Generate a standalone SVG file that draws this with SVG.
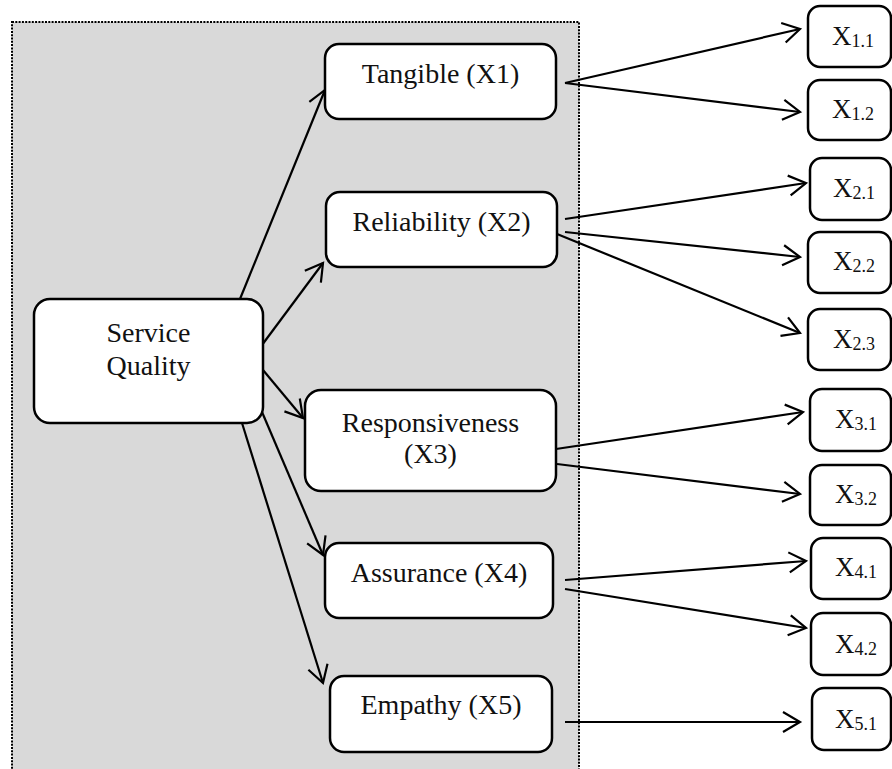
<svg xmlns="http://www.w3.org/2000/svg" width="892" height="769" viewBox="0 0 892 769">
<defs>
<style>
.box{fill:#fff;stroke:#000;stroke-width:2.5}
.lbl{font-family:"Liberation Serif","Times New Roman",serif;font-size:28px;fill:#111;text-anchor:middle}
.xl{font-family:"Liberation Serif","Times New Roman",serif;font-size:27px;fill:#111}
.sub{font-size:18px}
.con{stroke:#000;stroke-width:2.2;fill:none;marker-end:url(#arr)}
</style>
<marker id="arr" viewBox="0 0 24 24" refX="21" refY="12" markerWidth="24" markerHeight="24" markerUnits="userSpaceOnUse" orient="auto">
<path d="M4,2 L21,12 L4,22" fill="none" stroke="#000" stroke-width="2.2"/>
</marker>
</defs>
<rect id="frame" x="12" y="22" width="567" height="770" fill="#d9d9d9" stroke="#000" stroke-width="2" stroke-dasharray="2,1.3"/>

<g id="connectors">
<line class="con" x1="240" y1="299" x2="325" y2="90"/>
<line class="con" x1="262" y1="345" x2="323" y2="263"/>
<line class="con" x1="263" y1="370" x2="303" y2="418"/>
<line class="con" x1="262" y1="412" x2="323" y2="555"/>
<line class="con" x1="242" y1="423" x2="323" y2="683"/>
<line class="con" x1="565" y1="83" x2="800" y2="29"/>
<line class="con" x1="565" y1="83" x2="800" y2="112"/>
<line class="con" x1="565" y1="219" x2="806" y2="183"/>
<line class="con" x1="565" y1="232" x2="800" y2="257"/>
<line class="con" x1="557" y1="234" x2="800" y2="333"/>
<line class="con" x1="556" y1="449" x2="803" y2="412"/>
<line class="con" x1="557" y1="464" x2="800" y2="494"/>
<line class="con" x1="565" y1="580" x2="806" y2="561"/>
<line class="con" x1="565" y1="589" x2="806" y2="628"/>
<line class="con" x1="565" y1="722" x2="800" y2="722"/>
</g>

<g id="service-quality">
<rect class="box" x="34" y="299" width="229" height="124" rx="16"/>
<text class="lbl" x="148.5" y="342">Service</text>
<text class="lbl" x="148.5" y="375">Quality</text>
</g>
<g id="tangible">
<rect class="box" x="325" y="44" width="231" height="75" rx="14"/>
<text class="lbl" x="440.5" y="83">Tangible (X1)</text>
</g>
<g id="reliability">
<rect class="box" x="326" y="192" width="231" height="75" rx="14"/>
<text class="lbl" x="441.5" y="231">Reliability (X2)</text>
</g>
<g id="responsiveness">
<rect class="box" x="305" y="390" width="251" height="101" rx="16"/>
<text class="lbl" x="430.5" y="432">Responsiveness</text>
<text class="lbl" x="430.5" y="463">(X3)</text>
</g>
<g id="assurance">
<rect class="box" x="325" y="543" width="228" height="75" rx="14"/>
<text class="lbl" x="439" y="582">Assurance (X4)</text>
</g>
<g id="empathy">
<rect class="box" x="330" y="676" width="222" height="76" rx="14"/>
<text class="lbl" x="441" y="714">Empathy (X5)</text>
</g>

<g id="x11"><rect class="box" x="808" y="6" width="83" height="61" rx="12"/><text class="xl" x="832" y="45">X<tspan class="sub" dy="2">1.1</tspan></text></g>
<g id="x12"><rect class="box" x="808" y="80" width="83" height="60" rx="12"/><text class="xl" x="832" y="118">X<tspan class="sub" dy="2">1.2</tspan></text></g>
<g id="x21"><rect class="box" x="810" y="158" width="81" height="62" rx="12"/><text class="xl" x="833" y="197">X<tspan class="sub" dy="2">2.1</tspan></text></g>
<g id="x22"><rect class="box" x="808" y="232" width="83" height="61" rx="12"/><text class="xl" x="833" y="270">X<tspan class="sub" dy="2">2.2</tspan></text></g>
<g id="x23"><rect class="box" x="808" y="309" width="83" height="61" rx="12"/><text class="xl" x="833" y="348">X<tspan class="sub" dy="2">2.3</tspan></text></g>
<g id="x31"><rect class="box" x="810" y="389" width="81" height="62" rx="12"/><text class="xl" x="835" y="428">X<tspan class="sub" dy="2">3.1</tspan></text></g>
<g id="x32"><rect class="box" x="810" y="465" width="81" height="60" rx="12"/><text class="xl" x="835" y="503">X<tspan class="sub" dy="2">3.2</tspan></text></g>
<g id="x41"><rect class="box" x="811" y="538" width="80" height="61" rx="12"/><text class="xl" x="835" y="576">X<tspan class="sub" dy="2">4.1</tspan></text></g>
<g id="x42"><rect class="box" x="811" y="613" width="80" height="62" rx="12"/><text class="xl" x="835" y="653">X<tspan class="sub" dy="2">4.2</tspan></text></g>
<g id="x51"><rect class="box" x="812" y="688" width="79" height="62" rx="12"/><text class="xl" x="835" y="728">X<tspan class="sub" dy="2">5.1</tspan></text></g>
</svg>
